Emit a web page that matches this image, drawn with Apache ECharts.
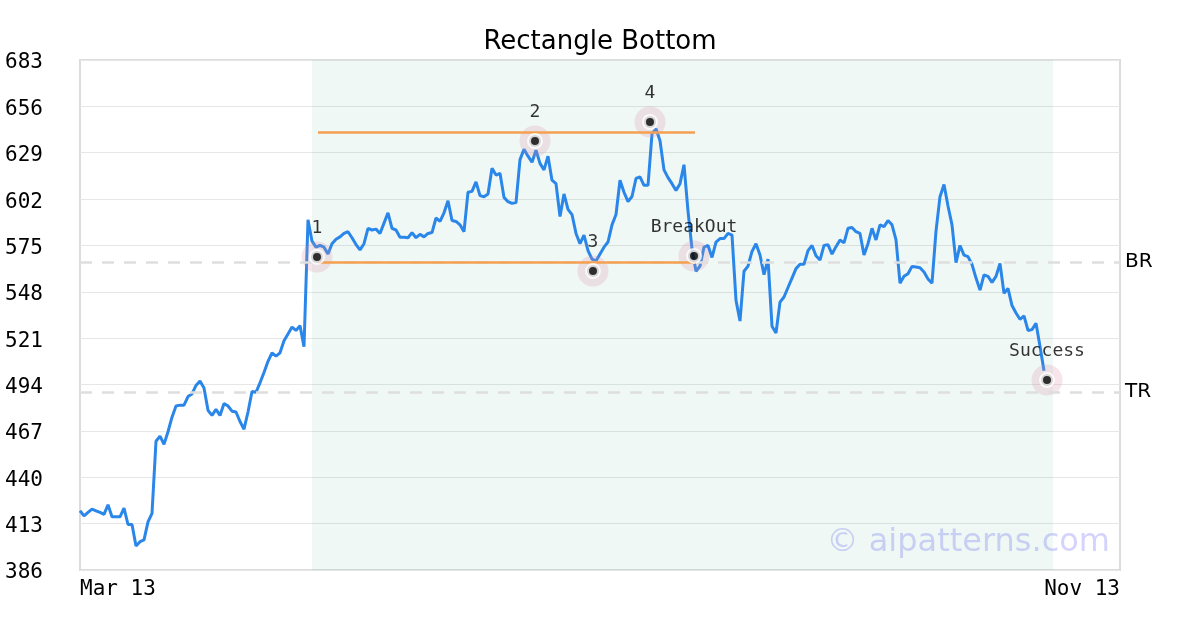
<!DOCTYPE html>
<html>
<head>
<meta charset="utf-8">
<script src="https://cdn.jsdelivr.net/npm/echarts@6/dist/echarts.min.js"></script>
<style>html,body{margin:0;padding:0;background:#fff}#c{width:1200px;height:630px}</style>
</head>
<body>
<div id="c"></div>
<script>
// x positions are trading-step indices; axis runs from Mar 13 (0) to Nov 13 (260)
const xLabels = ['Mar 13', 'Nov 13'];
const xMax = 260;
const yTicks = [386, 413, 440, 467, 494, 521, 548, 575, 602, 629, 656, 683];

const prices = [
 420.5,417.5,419.5,421.5,420.5,419.5,418.4,424,417,417,
 417,422,412.5,412.5,400,402.5,403.5,414,419,461,
 464,459.2,466.5,475,481.5,482,482,487,488.5,493.5,
 496,492,479,476,479.5,476,483,481.5,478.5,478,
 472.5,468,478,490,489.5,495,501,507.5,512.5,510.5,
 512.5,519.5,523.5,527.5,525.5,528.3,516,590,577.5,574,
 575,574,570,576,578.6,580,582,583,579.5,575.5,
 572.4,576,585,584,584.5,582,588,594,585,584,
 579.8,579.8,579.5,582.5,579.5,581.5,580,582,582.5,591,
 589,594,601,589.5,589,587,583,606,606.5,612,
 604,603.4,605,620,616,617,603,600.5,599.5,600,
 625,631,627,623.5,630.5,622.8,619,627,613,611,
 591.8,605,596,593,582,576,581,572,567,566,
 570,574,577,587,593,613,606,600.5,603.5,614,
 615,610,610,640,643,636,619,614.5,611,607,
 611,622,595,573,560,563,574,575,568,577,
 579,579,582,581,543,531,560,563,571.5,576,
 569.4,558,567,528,524,542,545,550.5,556,561.5,
 564,564,572,575,569,566.5,575,575.5,570,574.3,
 578.2,576.5,585,585.5,583,582,569.4,576,585,578.2,
 587,586,589.5,587,578.2,553,557,558.5,562.8,562.5,
 562,559.5,555.5,553,583.3,603.4,610.5,598,587,565,
 575,569.4,568.5,564,556,549,557.8,557,553.5,557,
 564.5,547.1,550,540,535.7,532,534,525.5,526,529.7,
 516.1,502
];

const pointNames = ['1', '2', '3', '4', 'BreakOut', 'Success'];
const pointX = [59.25, 113.75, 128.25, 142.5, 153.5, 241.75];
const pointY = [568.3, 635.8, 560.1, 646.9, 568.9, 496.6];

const rectStart = 59.5, rectEnd = 153.75;
const rectTop = 641.1, rectBottom = 565.4;
const zoneStart = 58, zoneEnd = 243.25;
const levelNames = ['BR', 'TR'];
const levelValues = [565.4, 489.7];

const lineData = prices.map((v, i) => [i, v]);
const pts = pointNames.map((n, i) => ({ name: n, value: [pointX[i], pointY[i]] }));

const mono = 'DejaVu Sans Mono';
const chart = echarts.init(document.getElementById('c'), null, { renderer: 'canvas' });
chart.setOption({
  animation: false,
  backgroundColor: '#fff',
  title: {
    text: 'Rectangle Bottom', left: 'center', top: 24,
    textStyle: { fontFamily: 'DejaVu Sans', fontSize: 26, fontWeight: 'normal', color: '#000' }
  },
  graphic: [{
    type: 'text', right: 90, top: 527,
    style: { text: '© aipatterns.com', font: '32px "DejaVu Sans"', fill: 'rgba(120,120,250,0.33)' }
  }],
  grid: { left: 80, right: 80, top: 60, bottom: 60, show: true, borderColor: '#dcdcdc', borderWidth: 2, backgroundColor: 'transparent' },
  xAxis: {
    type: 'value', min: 0, max: xMax, interval: xMax,
    axisLine: { show: false }, axisTick: { show: false }, splitLine: { show: false },
    axisLabel: {
      fontFamily: mono, fontSize: 21, color: '#000', margin: 9,
      alignMinLabel: 'left', alignMaxLabel: 'right',
      formatter: v => v === 0 ? xLabels[0] : (v === xMax ? xLabels[1] : '')
    }
  },
  yAxis: {
    type: 'value', min: yTicks[0], max: yTicks[yTicks.length - 1], interval: yTicks[1] - yTicks[0],
    axisLine: { show: false }, axisTick: { show: false },
    splitLine: { lineStyle: { color: '#e6e6e6', width: 1 } },
    axisLabel: {
      margin: 37,
      formatter: v => '{a|' + v + '}',
      rich: { a: { fontFamily: mono, fontSize: 21, color: '#000', padding: [6, 0, 0, 0] } }
    }
  },
  series: [
    {
      type: 'line', data: lineData, showSymbol: false, symbol: 'none',
      lineStyle: { color: '#2a86e8', width: 3 }, z: 3,
      markArea: {
        silent: true,
        itemStyle: { color: 'rgba(70,170,130,0.08)' },
        data: [[{ xAxis: zoneStart }, { xAxis: zoneEnd }]]
      },
      markLine: {
        silent: true, symbol: 'none',
        data: [
          { yAxis: levelValues[0], name: levelNames[0], lineStyle: { color: '#dedede', type: [12, 10], width: 2.5 },
            label: { show: true, position: 'end', formatter: levelNames[0], fontFamily: 'DejaVu Sans', fontSize: 20, color: '#000', distance: 5 } },
          { yAxis: levelValues[1], name: levelNames[1], lineStyle: { color: '#dedede', type: [12, 10], width: 2.5 },
            label: { show: true, position: 'end', formatter: levelNames[1], fontFamily: 'DejaVu Sans', fontSize: 20, color: '#000', distance: 5 } },
          [{ coord: [rectStart, rectTop], lineStyle: { color: '#f4a050', width: 2.5, type: 'solid' }, label: { show: false } }, { coord: [rectEnd, rectTop] }],
          [{ coord: [rectStart, rectBottom], lineStyle: { color: '#f4a050', width: 2.5, type: 'solid' }, label: { show: false } }, { coord: [rectEnd, rectBottom] }]
        ]
      }
    },
    {
      type: 'scatter', data: pts, symbol: 'circle', symbolSize: 31, z: 4,
      itemStyle: { color: 'rgba(215,140,165,0.28)' }
    },
    {
      type: 'scatter', data: pts, symbol: 'circle', symbolSize: 12, z: 5,
      itemStyle: { color: '#000', borderColor: '#fff', borderWidth: 4 },
      label: { show: true, formatter: '{b}', position: 'top', distance: 12, fontFamily: mono, fontSize: 18, color: '#000', textBorderWidth: 0 }
    }
  ]
});
</script>
</body>
</html>
